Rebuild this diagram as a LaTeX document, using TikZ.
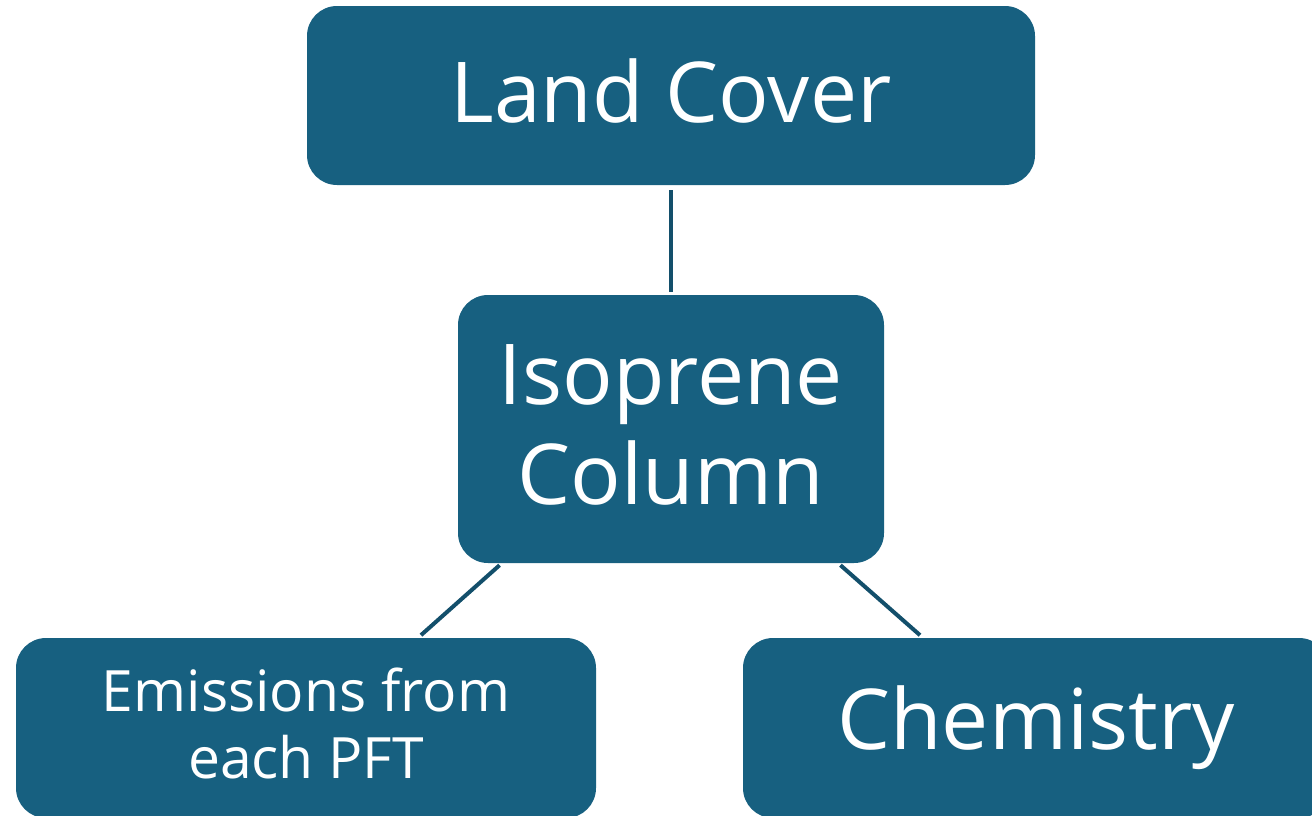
\documentclass[tikz,border=0pt]{standalone}
\usepackage{fontspec}
\setmainfont{Open Sans}
\usepackage{xcolor}
\definecolor{boxblue}{HTML}{176080}
\definecolor{linkblue}{HTML}{134F6B}

\begin{document}
\begin{tikzpicture}[x=1pt, y=-1pt,
    box/.style={rectangle, rounded corners=30pt, fill=boxblue, text=white, align=center, inner sep=0pt},
    link/.style={linkblue, line width=4pt}]
            \useasboundingbox (0,0) rectangle (1312,815);
            \node[box, minimum width=728pt, minimum height=179pt, text depth=9pt, font=\fontsize{84}{98}\selectfont](landcover) at (671,95.5){Land Cover};
            \node[box, minimum width=426pt, minimum height=268pt, text depth=8pt, font=\fontsize{84}{100}\selectfont](isoprene) at (671,429){Isoprene\\Column};
            \node[box, minimum width=580pt, minimum height=180pt, text depth=9pt, font=\fontsize{57}{67}\selectfont](emissions) at (306,728){Emissions from\\each PFT};
            \node[box, minimum width=586pt, minimum height=180pt, font=\fontsize{84}{100}\selectfont](chemistry) at (1036,728){Chemistry};
            % connectors
            \draw[link, shorten <=5pt, shorten >=3pt] (landcover.south) -- (isoprene.north);
            \draw[link, shorten <=3pt, shorten >=4pt] ([xshift=44pt]isoprene.south west) -- ([xshift=112pt]emissions.north);
            \draw[link, shorten <=3pt, shorten >=4pt] ([xshift=-46pt]isoprene.south east) -- ([xshift=-113pt]chemistry.north);
        \end{tikzpicture}
\end{document}
